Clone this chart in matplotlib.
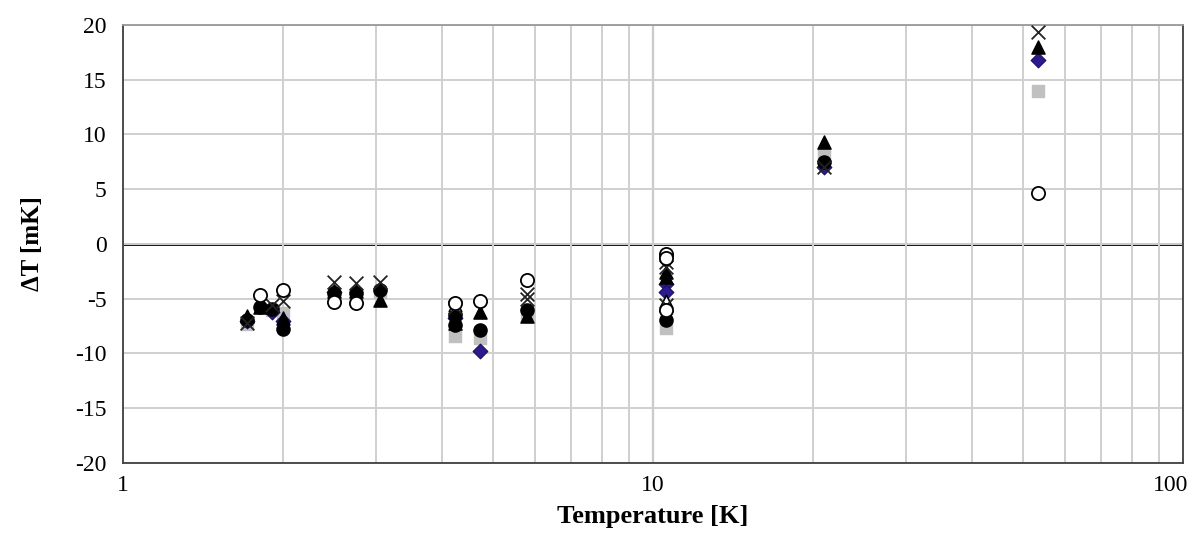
import matplotlib
matplotlib.use("Agg")
import matplotlib.pyplot as plt
from matplotlib.ticker import NullFormatter, LogLocator
import matplotlib.transforms as mtransforms

plt.rcParams['font.family'] = ['Liberation Serif', 'DejaVu Serif']

# ---- data (Temperature [K], delta T [mK]) ----
sq_T = [1.71, 1.91, 2.0, 2.5, 2.75, 3.05, 4.23, 4.72, 5.78, 10.6, 21.0, 53.3]
sq_dT = [-7.3, -6.0, -6.3, -4.6, -4.6, -4.4, -8.4, -8.6, -6.5, -7.7, 8.2, 14.0]

dia_T = [1.71, 1.91, 2.0, 2.5, 4.23, 4.72, 10.6, 10.6, 21.0, 53.3]
dia_dT = [-7.0, -6.2, -7.0, -4.4, -6.8, -9.8, -3.7, -4.4, 7.0, 16.8]

fc_T = [1.71, 1.81, 1.91, 2.0, 2.5, 2.75, 3.05, 4.23, 4.23, 4.72, 5.78, 10.6, 21.0]
fc_dT = [-6.9, -5.8, -5.9, -7.8, -4.5, -4.5, -4.2, -6.5, -7.4, -7.9, -6.0, -6.9, 7.5]

tri_T = [1.71, 1.81, 2.0, 2.5, 2.75, 3.05, 4.23, 4.72, 5.78, 10.6, 10.6, 21.0, 53.3]
tri_dT = [-6.6, -5.8, -6.8, -4.3, -4.3, -5.1, -7.2, -6.2, -6.6, -2.6, -3.0, 9.3, 18.0]

otri_T = [4.23, 10.6]
otri_dT = [-5.6, -5.2]

x_T = [1.71, 1.91, 2.0, 2.5, 2.75, 3.05, 4.23, 5.78, 5.78, 10.6, 10.6, 10.6, 21.0, 53.3]
x_dT = [-7.2, -5.6, -5.2, -3.5, -3.6, -3.5, -5.8, -4.6, -5.0, -1.6, -2.1, -5.6, 7.0, 19.4]

oc_T = [1.81, 2.0, 2.5, 2.75, 4.23, 4.72, 5.78, 10.6, 10.6, 10.6, 53.3]
oc_dT = [-4.7, -4.2, -5.3, -5.4, -5.4, -5.2, -3.3, -0.9, -1.3, -6.0, 4.7]

y_ticks = [-20, -15, -10, -5, 0, 5, 10, 15, 20]
x_ticks = [1, 10, 100]
x_ticklabels = ['1', '10', '100']

fig = plt.figure(figsize=(11.97, 5.34), dpi=100)
ax = fig.add_axes([0.1028, 0.133, 0.8855, 0.8202])

ax.set_xscale('log')
ax.set_xlim(1, 100)
ax.set_ylim(-20, 20)

ax.set_xticks(x_ticks)
ax.set_xticklabels(x_ticklabels)
ax.xaxis.set_minor_locator(LogLocator(base=10, subs=range(2, 10)))
ax.xaxis.set_minor_formatter(NullFormatter())
ax.set_yticks(y_ticks)
ax.set_yticklabels([str(v) for v in y_ticks])

ax.grid(True, which='both', axis='x', color='#cfcfcf', lw=1.4, zorder=0)
ax.grid(True, which='major', axis='y', color='#cfcfcf', lw=1.4, zorder=0)
ax.tick_params(which='both', length=0, labelsize=17)
ax.tick_params(axis='y', pad=12)
ax.tick_params(axis='x', pad=9)

# last x tick label shifted left so it stays inside the figure
last = ax.get_xticklabels()[-1]
last.set_horizontalalignment('right')
last.set_transform(last.get_transform() + mtransforms.ScaledTranslation(5 / 100, 0, fig.dpi_scale_trans))

ax.axhline(0, color='black', lw=2.0, zorder=1)
ax.axvline(10, color='#555555', lw=1.5, zorder=1)

for s in ['left', 'bottom', 'right']:
    ax.spines[s].set_color('#404040')
    ax.spines[s].set_linewidth(1.3)
ax.spines['top'].set_color('#999999')
ax.spines['top'].set_linewidth(1.3)

ms = 75
ax.scatter(sq_T, sq_dT, marker='s', s=ms, color='#c0c0c0', edgecolors='#c0c0c0', zorder=3)
ax.scatter(dia_T, dia_dT, marker='D', s=ms * 0.75, color='#2b1b8f', edgecolors='#1a1060', lw=0.8, zorder=4)
ax.scatter(fc_T, fc_dT, marker='o', s=ms * 1.2, color='black', zorder=5)
ax.scatter(tri_T, tri_dT, marker='^', s=ms * 1.2, color='black', zorder=6)
ax.scatter(otri_T, otri_dT, marker='^', s=ms * 1.1, facecolors='white', edgecolors='black', lw=1.2, zorder=6)
ax.scatter(x_T, x_dT, marker='x', s=ms * 1.3, color='#222222', lw=1.3, zorder=7)
ax.scatter(oc_T, oc_dT, marker='o', s=ms * 1.2, facecolors='white', edgecolors='black', lw=1.3, zorder=8)

ax.set_xlabel('Temperature [K]', fontsize=19, fontweight='bold', labelpad=6)
ax.set_ylabel('ΔT [mK]', fontsize=18, fontweight='bold', labelpad=22)

fig.savefig('out.png', dpi=100)
